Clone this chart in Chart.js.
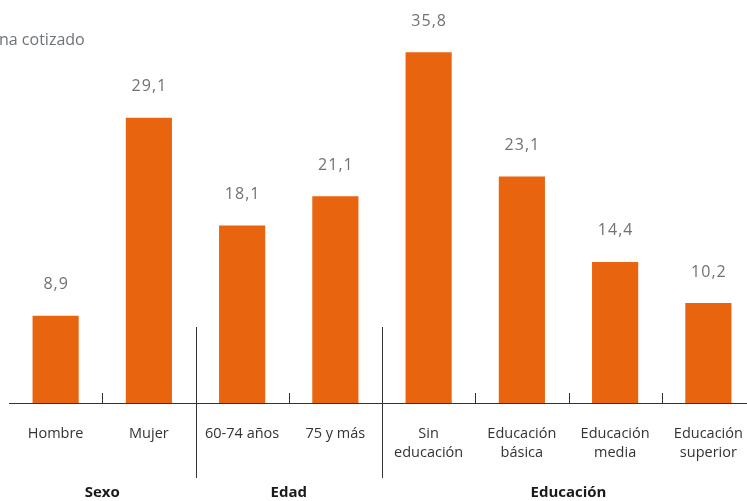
<!DOCTYPE html>
<html>
<head>
<meta charset="utf-8">
<script src="https://cdn.jsdelivr.net/npm/chart.js@4"></script>
<style>
html,body{margin:0;padding:0;background:#fff;overflow:hidden;width:747px;height:501px;}
#wrap{position:relative;width:755px;height:501px;}
</style>
</head>
<body>
<div id="wrap"><canvas id="c" width="755" height="501"></canvas></div>
<script>
const categories = ["Hombre", ["Mujer"], ["60-74 años"], ["75 y más"], ["Sin", "educación"], ["Educación", "básica"], ["Educación", "media"], ["Educación", "superior"]];
const values = [8.9, 29.1, 18.1, 21.1, 35.8, 23.1, 14.4, 10.2];
const groups = ["Sexo", "Edad", "Educación"];
const groupSpans = [[0, 1], [2, 3], [4, 7]];
const titleText = "na cotizado";

const FONT = "'Open Sans', 'Noto Sans', sans-serif";

const decor = {
  id: 'decor',
  afterDraw(chart) {
    const ctx = chart.ctx;
    const x = chart.scales.x;
    const y = chart.scales.y;
    const base = y.getPixelForValue(0);
    ctx.save();
    // value labels
    const meta = chart.getDatasetMeta(0);
    ctx.fillStyle = '#6f7277';
    ctx.font = "16px " + FONT;
    ctx.letterSpacing = '1px';
    ctx.textAlign = 'center';
    ctx.textBaseline = 'middle';
    meta.data.forEach((bar, i) => {
      ctx.fillText(values[i].toFixed(1).replace('.', ','), bar.x + 0.5, bar.y - 31);
    });
    ctx.letterSpacing = '0px';
    // small tick marks at category boundaries
    ctx.strokeStyle = '#333';
    ctx.lineWidth = 1;
    const half = (x.getPixelForValue(1) - x.getPixelForValue(0)) / 2;
    const sepIdx = groupSpans.slice(0, -1).map(s => s[1]);
    for (let i = 0; i < categories.length - 1; i++) {
      const px = Math.round(x.getPixelForValue(i) + half) + 0.5;
      ctx.beginPath();
      if (sepIdx.includes(i)) {
        ctx.moveTo(px, base - 76);
        ctx.lineTo(px, base + 75);
      } else {
        ctx.moveTo(px, base - 10);
        ctx.lineTo(px, base);
      }
      ctx.stroke();
    }
    // group labels
    ctx.fillStyle = '#1a1a1a';
    ctx.font = "bold 15px " + FONT;
    groups.forEach((g, k) => {
      const [a, b] = groupSpans[k];
      const cx = (x.getPixelForValue(a) + x.getPixelForValue(b)) / 2;
      ctx.fillText(g, cx, base + 90);
    });
    // title fragment
    ctx.fillStyle = '#6f7277';
    ctx.font = "16px " + FONT;
    ctx.textAlign = 'left';
    ctx.fillText(titleText, -1, 40);
    ctx.restore();
  }
};

new Chart(document.getElementById('c'), {
  type: 'bar',
  data: {
    labels: categories,
    datasets: [{
      data: values,
      backgroundColor: '#E9640F',
      borderWidth: 0,
      categoryPercentage: 1,
      barPercentage: 0.495
    }]
  },
  options: {
    responsive: false,
    animation: false,
    layout: { padding: { top: 11, left: 9, right: 0, bottom: 0 } },
    plugins: { legend: { display: false }, tooltip: { enabled: false } },
    scales: {
      x: {
        grid: { display: false, drawTicks: false },
        border: { display: true, color: '#333', width: 1 },
        ticks: {
          color: '#333',
          font: { family: FONT, size: 14.5, lineHeight: 1.35 },
          padding: 21,
          maxRotation: 0,
          autoSkip: false
        },
        afterFit(scale) {
          scale.height = 98;
          scale.paddingLeft = 0;
          scale.paddingRight = 0;
        }
      },
      y: {
        display: false,
        min: 0,
        max: 40
      }
    }
  },
  plugins: [decor]
});
</script>
</body>
</html>
